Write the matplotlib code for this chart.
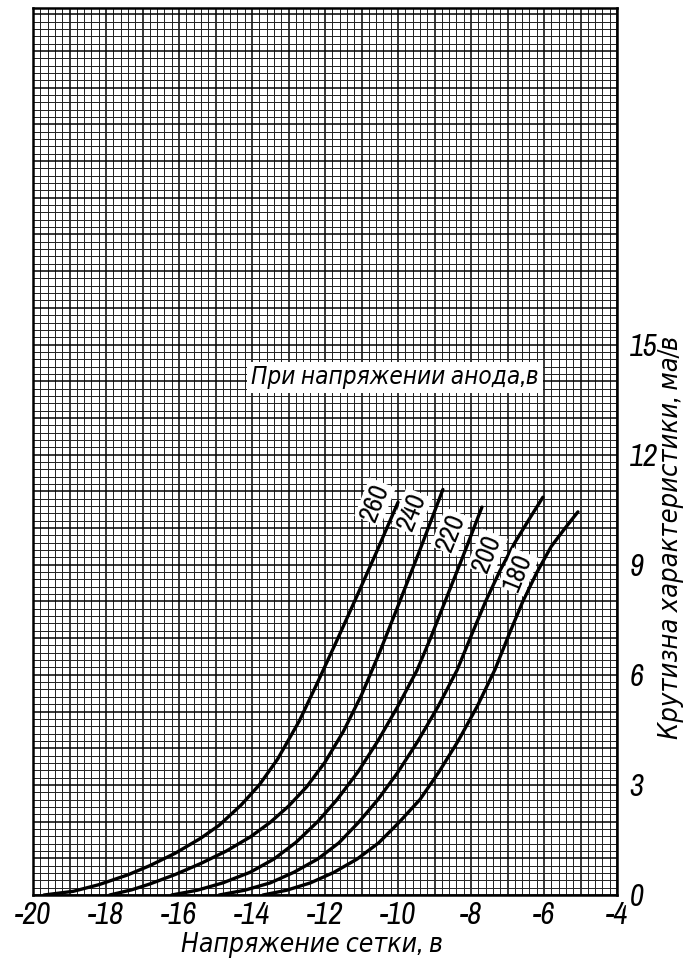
import matplotlib
matplotlib.use('Agg')
import matplotlib.pyplot as plt
from matplotlib import font_manager
from matplotlib.ticker import MultipleLocator, FuncFormatter

plt.rcParams['axes.unicode_minus'] = False

# look for a narrow face (the scan uses tall condensed lettering)
narrow = [f for f in font_manager.fontManager.ttflist
          if 'Narrow' in f.name or 'Condensed' in f.name or f.stretch in ('condensed', 'semi-condensed')]
narrow = sorted(narrow, key=lambda f: (f.style == 'normal', f.name))
if narrow:
    NARROW = dict(family=[narrow[0].name, 'DejaVu Sans'], stretch=narrow[0].stretch)
    TICK_FS, TAG_FS, NOTE_FS, XL_FS, YL_FS = 22, 20, 17.5, 19, 19.5
else:
    NARROW = dict(family=['DejaVu Sans'])
    TICK_FS, TAG_FS, NOTE_FS, XL_FS, YL_FS = 18, 16, 15, 16, 17

# anode voltage for each curve (label text)
anode_v = ['260', '240', '220', '200', '180']

# grid voltage, V  /  slope, mA/V
ug_260 = [-19.7, -18.9, -18.2, -17.4, -16.8, -16.1, -15.4, -14.9, -14.3, -13.8, -13.3, -12.7, -12.2, -11.7, -11.2, -10.6, -10.0]
s_260 = [0.0, 0.10, 0.28, 0.55, 0.80, 1.14, 1.55, 1.9, 2.45, 3.0, 3.7, 4.75, 5.8, 6.88, 7.98, 9.32, 10.7]

ug_240 = [-17.9, -17.3, -16.8, -16.1, -15.4, -14.7, -14.05, -13.5, -13.0, -12.5, -12.0, -11.5, -11.0, -10.5, -10.03, -9.4, -8.77]
s_240 = [0.0, 0.14, 0.30, 0.56, 0.86, 1.2, 1.58, 1.98, 2.42, 2.95, 3.62, 4.45, 5.45, 6.62, 7.8, 9.4, 11.05]

ug_220 = [-16.2, -15.5, -14.8, -14.05, -13.4, -12.8, -12.2, -11.67, -11.1, -10.55, -10.0, -9.48, -9.1, -8.71, -8.2, -7.7]
s_220 = [0.0, 0.13, 0.33, 0.62, 0.98, 1.43, 2.0, 2.6, 3.35, 4.2, 5.15, 6.12, 7.02, 8.0, 9.28, 10.57]

ug_200 = [-14.9, -14.2, -13.5, -12.85, -12.2, -11.62, -11.08, -10.55, -10.0, -9.45, -8.9, -8.38, -7.98, -7.6, -7.2, -6.8, -6.4, -6.03]
s_200 = [0.0, 0.13, 0.33, 0.62, 0.98, 1.42, 1.98, 2.6, 3.35, 4.2, 5.14, 6.13, 7.1, 8.0, 8.85, 9.6, 10.25, 10.84]

ug_180 = [-13.7, -13.05, -12.4, -11.75, -11.12, -10.53, -9.97, -9.4, -8.88, -8.35, -7.83, -7.34, -6.95, -6.58, -6.2, -5.8, -5.42, -5.07]
s_180 = [0.0, 0.13, 0.33, 0.62, 0.98, 1.42, 1.98, 2.6, 3.35, 4.2, 5.14, 6.15, 7.12, 8.0, 8.78, 9.5, 10.0, 10.44]

curves = [(ug_260, s_260), (ug_240, s_240), (ug_220, s_220), (ug_200, s_200), (ug_180, s_180)]

# where the anode-voltage tags sit
tag_x = [-10.63, -9.62, -8.55, -7.56, -6.71]
tag_y = [10.71, 10.44, 9.89, 9.32, 8.8]

x_labels = [-20, -18, -16, -14, -12, -10, -8, -6, -4]
y_labels = [0, 3, 6, 9, 12, 15]

fig = plt.figure(figsize=(6.84, 9.65), dpi=100)
ax = fig.add_axes([33 / 684, 70 / 965, 584 / 684, 887 / 965])

ax.set_xlim(-20, -4)
ax.set_ylim(0, 24.17)

# graph-paper grid: fine every 0.2, heavier every 1
ax.xaxis.set_major_locator(MultipleLocator(1))
ax.xaxis.set_minor_locator(MultipleLocator(0.2))
ax.yaxis.set_major_locator(MultipleLocator(1))
ax.yaxis.set_minor_locator(MultipleLocator(0.2))
ax.grid(which='minor', color='#202020', lw=0.7)
ax.grid(which='major', color='black', lw=1.1)
ax.set_axisbelow(True)

ax.xaxis.set_major_formatter(FuncFormatter(
    lambda v, p: f'{int(round(v))}' if int(round(v)) in x_labels else ''))
ax.yaxis.set_major_formatter(FuncFormatter(
    lambda v, p: f'{int(round(v))}' if int(round(v)) in y_labels else ''))

ax.yaxis.tick_right()
ax.tick_params(which='both', length=0)
ax.tick_params(axis='x', pad=4)
ax.tick_params(axis='y', pad=9, labelright=True, labelleft=False)
for lab in ax.get_xticklabels() + ax.get_yticklabels():
    lab.set_family(NARROW['family'])
    if 'stretch' in NARROW:
        lab.set_stretch(NARROW['stretch'])
    lab.set_style('italic')
    lab.set_fontsize(TICK_FS)

for sp in ax.spines.values():
    sp.set_linewidth(1.8)

for (xs, ys) in curves:
    ax.plot(xs, ys, color='black', lw=2.4, solid_capstyle='round',
            solid_joinstyle='round', zorder=3)

for name, tx, ty in zip(anode_v, tag_x, tag_y):
    ax.text(tx, ty, name, rotation=68, ha='center', va='center', fontsize=TAG_FS,
            zorder=4, bbox=dict(facecolor='white', edgecolor='none', pad=1.2), **NARROW)

ax.text(-10.08, 14.1, 'При напряжении анода,в', ha='center', va='center',
        fontsize=NOTE_FS, style='italic', zorder=4,
        bbox=dict(facecolor='white', edgecolor='none', pad=3), **NARROW)

fig.text(312 / 684, 1 - 945 / 965, 'Напряжение сетки, в', ha='center', va='center',
         fontsize=XL_FS, style='italic', **NARROW)
fig.text(671 / 684, 1 - 537 / 965, 'Крутизна характеристики, ма/в', rotation=90,
         ha='center', va='center', fontsize=YL_FS, style='italic', **NARROW)

fig.savefig('out.png', dpi=100)
